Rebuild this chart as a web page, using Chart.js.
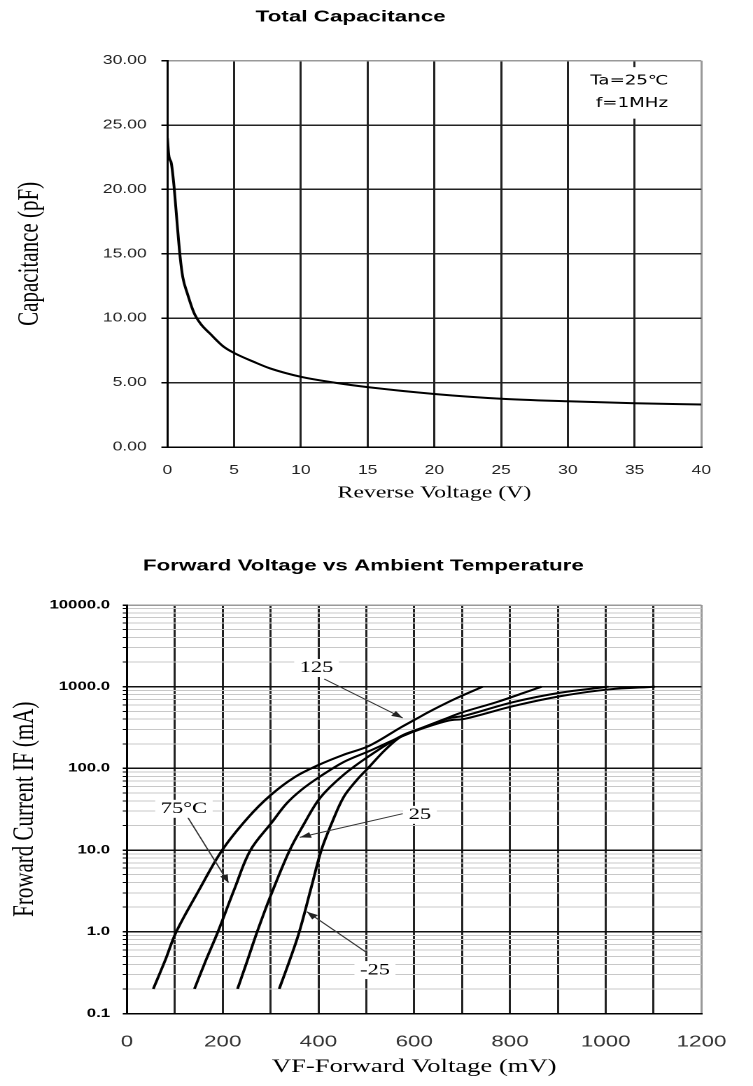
<!DOCTYPE html>
<html>
<head>
<meta charset="utf-8">
<script src="https://cdn.jsdelivr.net/npm/chart.js@4.4.0/dist/chart.umd.min.js"></script>
<style>
  body { margin: 0; background: #fff; width: 753px; height: 1086px; overflow: hidden; position: relative; }
  canvas { position: absolute; left: 0; }
</style>
</head>
<body>
<!-- the source picture is stretched sideways, so the canvases are drawn narrow and widened by css -->
<canvas id="cap" width="538" height="520" style="top:0;width:753px;height:520px"></canvas>
<canvas id="fwd" width="538" height="566" style="top:520px;width:753px;height:566px"></canvas>
<script>
// Total capacitance vs reverse voltage
const capVoltage = [0, 0.1, 0.3, 0.5, 0.75, 0.95, 1.15, 1.5, 2, 2.5, 3.2, 4.2, 5, 6.5, 7.7, 10, 12.5, 15, 20, 25, 30, 35, 40];
const capValues  = [24.0, 22.7, 22.0, 20.2, 17.1, 14.8, 13.2, 11.9, 10.4, 9.55, 8.8, 7.8, 7.3, 6.6, 6.1, 5.45, 5.0, 4.65, 4.12, 3.75, 3.55, 3.4, 3.3];
const capXTicks  = [0, 5, 10, 15, 20, 25, 30, 35, 40];
const capYTicks  = [0, 5, 10, 15, 20, 25, 30];

// Forward current vs forward voltage (mV, mA)
const vfM25 = [318, 340, 360, 385, 406, 430, 453, 480, 503, 540, 573, 620, 672, 700, 773, 826, 866];
const ifM25 = [0.2, 0.45, 1, 3.5, 10, 23, 45, 72, 100, 170, 246, 320, 420, 485, 650, 830, 1000];
const vf25  = [231, 250, 272, 300, 340, 370, 404, 452, 506, 573, 620, 672, 706, 806, 906, 1006];
const if25  = [0.2, 0.42, 1, 2.75, 10, 21, 44, 83, 142, 250, 318, 410, 442, 646, 846, 1000];
const vf75  = [141, 165, 190, 225, 258, 303, 333, 365, 404, 453, 506, 573, 620, 672, 706, 806, 906, 1006, 1103];
const if75  = [0.2, 0.45, 1, 3.4, 10, 22, 37, 55, 80, 120, 163, 245, 312, 385, 405, 577, 766, 926, 1000];
const vf125 = [55, 80, 103, 150, 199, 253, 300, 350, 400, 450, 506, 573, 603, 633, 686, 743];
const if125 = [0.2, 0.45, 1, 3.2, 10, 25, 47, 78, 110, 145, 189, 320, 400, 500, 713, 1000];
const fwdXLabels = [0, 200, 400, 600, 800, 1000, 1200];
const fwdYLabels = [0.1, 1, 10, 100, 1000, 10000];

// callouts (data coords)
const capNote = { lines: ['Ta=25\u2103', 'f=1MHz'], at: [[34.6, 28.4], [34.8, 26.65]], box: [31.6, 29.5, 38.9, 25.5] };
const fwdNotes = [
  { text: '125',  at: [396, 1694], from: [412, 1242], to: [576, 414] },
  { text: '75°C', at: [119, 32],   from: [126, 25.7], to: [212, 4.0] },
  { text: '25',   at: [612, 27],   from: [576, 27.9], to: [361, 14.3] },
  { text: '-25',  at: [518, 0.34], from: [502, 0.55], to: [376, 1.76] }
];

const pts = (xs, ys) => xs.map((v, i) => ({ x: v, y: ys[i] }));

const notePlugin = {
  id: 'notes',
  afterDraw(chart, args, opts) {
    const { ctx, scales: { x, y } } = chart;
    ctx.save();
    if (opts.box) {
      const b = opts.box;
      ctx.fillStyle = '#fff';
      ctx.fillRect(x.getPixelForValue(b[0]), y.getPixelForValue(b[1]),
        x.getPixelForValue(b[2]) - x.getPixelForValue(b[0]), y.getPixelForValue(b[3]) - y.getPixelForValue(b[1]));
    }
    (opts.arrows || []).forEach(n => {
      const x1 = x.getPixelForValue(n.from[0]), y1 = y.getPixelForValue(n.from[1]);
      const x2 = x.getPixelForValue(n.to[0]), y2 = y.getPixelForValue(n.to[1]);
      ctx.strokeStyle = '#333';
      ctx.lineWidth = 1;
      ctx.beginPath(); ctx.moveTo(x1, y1); ctx.lineTo(x2, y2); ctx.stroke();
      const a = Math.atan2(y2 - y1, x2 - x1);
      ctx.fillStyle = '#222';
      ctx.beginPath();
      ctx.moveTo(x2, y2);
      ctx.lineTo(x2 - 8 * Math.cos(a) + 3 * Math.sin(a), y2 - 8 * Math.sin(a) - 3 * Math.cos(a));
      ctx.lineTo(x2 - 8 * Math.cos(a) - 3 * Math.sin(a), y2 - 8 * Math.sin(a) + 3 * Math.cos(a));
      ctx.closePath(); ctx.fill();
    });
    ctx.font = opts.font;
    ctx.textAlign = 'center';
    ctx.textBaseline = 'middle';
    (opts.texts || []).forEach(t => {
      const px = x.getPixelForValue(t.at[0]), py = y.getPixelForValue(t.at[1]);
      if (opts.textBg) {
        const w = ctx.measureText(t.text).width;
        ctx.fillStyle = '#fff';
        ctx.fillRect(px - w / 2 - 4, py - 9, w + 8, 18);
      }
      ctx.fillStyle = '#000';
      ctx.fillText(t.text, px, py);
    });
    ctx.restore();
  }
};

new Chart(document.getElementById('cap'), {
  type: 'scatter',
  data: {
    datasets: [{
      data: pts(capVoltage, capValues),
      showLine: true,
      borderColor: '#000',
      borderWidth: 2,
      pointRadius: 0,
      cubicInterpolationMode: 'monotone'
    }]
  },
  options: {
    responsive: false,
    animation: false,
    devicePixelRatio: 2,
    layout: { padding: { left: 0, right: 36.9, top: 0, bottom: 0 } },
    plugins: {
      legend: { display: false },
      tooltip: { enabled: false },
      title: {
        display: true, text: 'Total Capacitance', color: '#000',
        font: { family: "'Liberation Sans', Arial", size: 16, weight: 'bold' },
        padding: { top: 7.4, bottom: 34.1 }
      },
      notes: {
        box: capNote.box,
        font: "13px 'DejaVu Sans'",
        texts: capNote.lines.map((t, i) => ({ text: t, at: capNote.at[i] }))
      }
    },
    scales: {
      x: {
        type: 'linear', min: capXTicks[0], max: capXTicks[capXTicks.length - 1],
        afterBuildTicks: s => { s.ticks = capXTicks.map(v => ({ value: v })); },
        afterFit: s => { s.height = 73; },
        grid: { color: c => c.tick && c.tick.value === 40 ? '#999' : '#222', lineWidth: 1.5, drawTicks: false },
        border: { color: '#000', width: 1.5 },
        ticks: { padding: 16, maxRotation: 0, color: '#222', font: { family: "'Liberation Sans'", size: 12.5 } },
        title: { display: true, text: 'Reverse Voltage (V)', color: '#000',
          font: { family: "'Liberation Serif'", size: 17 }, padding: { top: 0, bottom: 16.8 } }
      },
      y: {
        type: 'linear', min: capYTicks[0], max: capYTicks[capYTicks.length - 1],
        afterBuildTicks: s => { s.ticks = capYTicks.map(v => ({ value: v })); },
        afterFit: s => { s.width = 119.6; },
        grid: { color: c => c.tick && c.tick.value === 30 ? '#999' : '#222', lineWidth: 1.5, tickLength: 4.3, tickColor: '#000' },
        border: { color: '#000', width: 1.5 },
        ticks: { padding: 10.5, color: '#222', font: { family: "'Liberation Sans'", size: 12.5 }, callback: v => v.toFixed(2) },
        title: { display: true, text: 'Capacitance (pF)', color: '#000',
          font: { family: "'Liberation Serif'", size: 21 }, padding: { top: 9, bottom: 0 } }
      }
    }
  },
  plugins: [notePlugin]
});

const line = d => ({ data: d, showLine: true, borderColor: '#000', borderWidth: 2, pointRadius: 0, tension: 0.35 });

new Chart(document.getElementById('fwd'), {
  type: 'scatter',
  data: {
    datasets: [
      line(pts(vf125, if125)),
      line(pts(vf75, if75)),
      line(pts(vf25, if25)),
      line(pts(vfM25, ifM25))
    ]
  },
  options: {
    responsive: false,
    animation: false,
    devicePixelRatio: 2,
    layout: { padding: { left: 0, right: 18.7, top: 0, bottom: 0 } },
    plugins: {
      legend: { display: false },
      tooltip: { enabled: false },
      title: {
        display: true, text: 'Forward Voltage vs Ambient Temperature', color: '#000',
        font: { family: "'Liberation Sans', Arial", size: 16, weight: 'bold' },
        padding: { top: 36.4, bottom: 29.4 }
      },
      notes: {
        font: "16px 'Liberation Serif'",
        textBg: true,
        arrows: fwdNotes,
        texts: fwdNotes
      }
    },
    scales: {
      x: {
        type: 'linear', min: fwdXLabels[0], max: fwdXLabels[fwdXLabels.length - 1],
        ticks: { stepSize: 100, autoSkip: false, maxRotation: 0, minRotation: 0, padding: 19, color: '#333',
          font: { family: "'Liberation Sans'", size: 16 },
          callback: v => fwdXLabels.includes(v) ? String(v) : '' },
        afterFit: s => { s.height = 72.5; },
        grid: { color: c => c.tick && c.tick.value === 1200 ? '#999' : '#222', lineWidth: 1.5, drawTicks: false },
        border: { color: '#000', width: 1.5 },
        title: { display: true, text: 'VF-Forward Voltage (mV)', color: '#000',
          font: { family: "'Liberation Serif'", size: 19 }, padding: { top: 0, bottom: 7.6 } }
      },
      y: {
        type: 'logarithmic', min: fwdYLabels[0], max: fwdYLabels[fwdYLabels.length - 1],
        afterBuildTicks: s => {
          const t = [];
          fwdYLabels.slice(0, -1).forEach(d => { for (let m = 1; m <= 9; m++) t.push({ value: d * m }); });
          t.push({ value: fwdYLabels[fwdYLabels.length - 1] });
          s.ticks = t;
        },
        afterFit: s => { s.width = 90.7; },
        grid: {
          color: c => {
            const v = c.tick && c.tick.value;
            if (v === 10000) return '#999';
            return fwdYLabels.includes(v) ? '#111' : '#c8c8c8';
          },
          lineWidth: c => fwdYLabels.includes(c.tick && c.tick.value) ? 1.5 : 1,
          tickLength: 3, tickColor: '#000'
        },
        border: { color: '#000', width: 1.5 },
        ticks: { autoSkip: false, padding: 9, color: '#000',
          font: { family: "'Liberation Sans'", size: 12, weight: 'bold' },
          callback: v => fwdYLabels.includes(v) ? v.toFixed(1) : '' },
        title: { display: true, text: 'Froward Current IF (mA)', color: '#000',
          font: { family: "'Liberation Serif'", size: 21 }, padding: { top: 5.5, bottom: 0 } }
      }
    }
  },
  plugins: [notePlugin]
});
</script>
</body>
</html>
